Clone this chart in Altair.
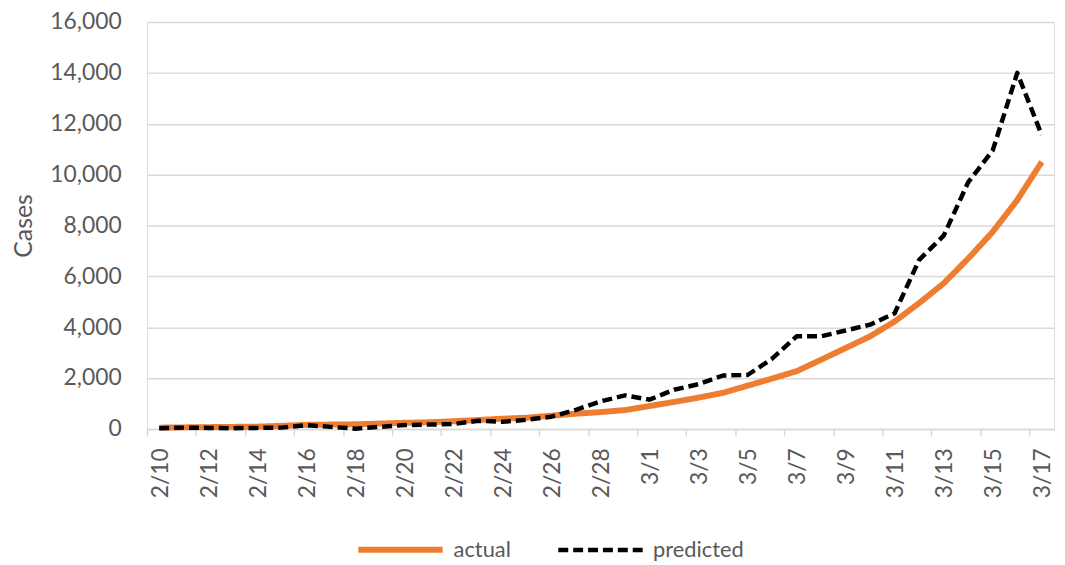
import altair as alt
import pandas as pd

dates = ["2/10", "2/11", "2/12", "2/13", "2/14", "2/15", "2/16", "2/17", "2/18", "2/19",
         "2/20", "2/21", "2/22", "2/23", "2/24", "2/25", "2/26", "2/27", "2/28", "2/29",
         "3/1", "3/2", "3/3", "3/4", "3/5", "3/6", "3/7", "3/8", "3/9", "3/10",
         "3/11", "3/12", "3/13", "3/14", "3/15", "3/16", "3/17"]

actual = [50, 60, 70, 80, 90, 120, 160, 170, 180, 210,
          240, 260, 300, 350, 400, 440, 520, 600, 660, 740,
          900, 1060, 1230, 1420, 1700, 1980, 2270, 2720, 3180, 3640,
          4225, 4950, 5725, 6700, 7750, 9000, 10500]

predicted = [30, 50, 40, 25, 40, 50, 150, 80, 10, 80,
             150, 170, 190, 320, 280, 360, 480, 750, 1080, 1320,
             1150, 1540, 1760, 2100, 2120, 2760, 3640, 3640, 3870, 4100,
             4550, 6650, 7600, 9700, 10950, 14000, 11550]

series_names = ["actual", "predicted"]
y_ticks = [0, 2000, 4000, 6000, 8000, 10000, 12000, 14000, 16000]

rows = []
for d, a, p in zip(dates, actual, predicted):
    rows.append({"date": d, "series": "actual", "value": a})
    rows.append({"date": d, "series": "predicted", "value": p})
df = pd.DataFrame(rows)

FONT = "Lato"
GREY = "#595959"
W, H = 914, 410
HALF = W / 37 / 2


def legend():
    return alt.Legend(title=None, orient="none", direction="horizontal",
                      legendX=210, legendY=486,
                      symbolType="stroke", symbolSize=7225,
                      labelFont=FONT, labelFontSize=22, labelColor=GREY,
                      labelOffset=8, columnPadding=38)


chart = alt.Chart(df).mark_line(strokeCap="butt", strokeJoin="round").encode(
    x=alt.X("date:O", sort=dates,
            scale=alt.Scale(type="point", padding=0.5),
            axis=alt.Axis(values=dates[::2], labelAngle=-90, title=None,
                          grid=False, domainColor="#d9d9d9", domainWidth=1.5,
                          tickColor="#d9d9d9", tickWidth=1.5, tickSize=7,
                          tickOffset=-HALF, labelOffset=HALF + 1,
                          labelFont=FONT, labelFontSize=23, labelColor=GREY,
                          labelPadding=12)),
    y=alt.Y("value:Q",
            scale=alt.Scale(domain=[0, 16000], nice=False),
            axis=alt.Axis(values=y_ticks, format=",d", title="Cases",
                          grid=True, gridColor="#d9d9d9", gridWidth=1.5,
                          domain=False, ticks=False,
                          labelFont=FONT, labelFontSize=23, labelColor=GREY,
                          labelPadding=26,
                          titleFont=FONT, titleFontSize=25, titleColor=GREY,
                          titleFontWeight="normal",
                          titleX=-124, titleY=H / 2, titleAngle=270,
                          titleAlign="center", titleBaseline="middle")),
    color=alt.Color("series:N",
                    scale=alt.Scale(domain=series_names, range=["#ED7D31", "#000000"]),
                    legend=legend()),
    strokeDash=alt.StrokeDash("series:N",
                              scale=alt.Scale(domain=series_names, range=[[1, 0], [10, 5]]),
                              legend=legend()),
    strokeWidth=alt.StrokeWidth("series:N",
                                scale=alt.Scale(domain=series_names, range=[6, 4.5]),
                                legend=legend()),
).properties(
    width=W, height=H,
    autosize=alt.AutoSizeParams(type="none"),
    padding={"left": 140, "top": 12, "right": 3, "bottom": 134},
).configure_view(stroke=None).configure(background="white")

chart.save("out.html", embed_options={"renderer": "svg", "actions": False})
